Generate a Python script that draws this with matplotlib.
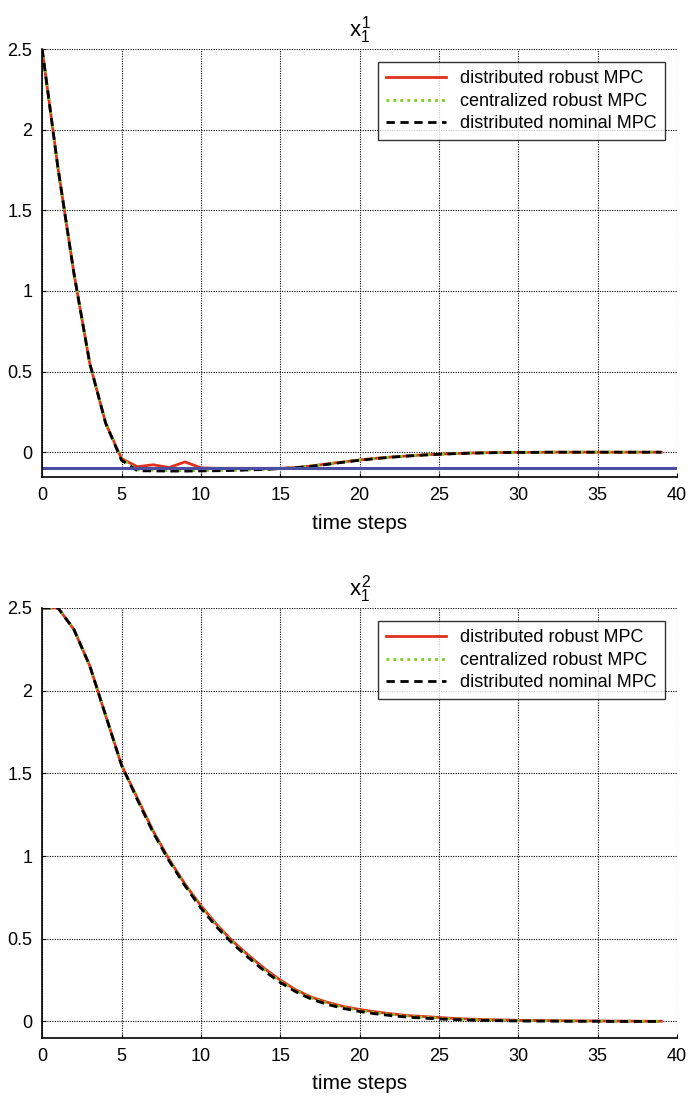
import matplotlib
matplotlib.use('Agg')
from matplotlib import pyplot as plt

plt.rcParams['font.family'] = ['Liberation Sans', 'DejaVu Sans']
plt.rcParams['mathtext.fontset'] = 'custom'
plt.rcParams['mathtext.rm'] = 'Liberation Sans'
plt.rcParams['mathtext.it'] = 'Liberation Sans'

# time steps 0..39
steps = list(range(40))

# state x_1^1
x11_dist_robust = [2.5, 1.76, 1.11, 0.55, 0.18, -0.04, -0.09, -0.078, -0.095, -0.06,
                   -0.097, -0.1, -0.1, -0.1, -0.1, -0.1, -0.095, -0.085, -0.072, -0.06,
                   -0.048, -0.038, -0.03, -0.023, -0.017, -0.012, -0.008, -0.005, -0.003, -0.002,
                   -0.001, -0.001, 0.0, 0.0, 0.0, 0.0, 0.0, 0.0, 0.0, 0.0]
x11_cent_robust = [2.5, 1.76, 1.11, 0.55, 0.18, -0.04, -0.11, -0.113, -0.114, -0.115,
                   -0.114, -0.113, -0.112, -0.11, -0.107, -0.102, -0.095, -0.085, -0.072, -0.06,
                   -0.048, -0.038, -0.03, -0.023, -0.017, -0.012, -0.008, -0.005, -0.003, -0.002,
                   -0.001, -0.001, 0.0, 0.0, 0.0, 0.0, 0.0, 0.0, 0.0, 0.0]
x11_dist_nominal = [2.5, 1.76, 1.11, 0.55, 0.18, -0.05, -0.115, -0.116, -0.117, -0.117,
                    -0.116, -0.115, -0.113, -0.11, -0.107, -0.102, -0.096, -0.087, -0.075, -0.062,
                    -0.05, -0.04, -0.031, -0.024, -0.018, -0.013, -0.009, -0.006, -0.004, -0.002,
                    -0.001, -0.001, 0.0, 0.0, 0.0, 0.0, 0.0, 0.0, 0.0, 0.0]
x11_bound = -0.1

# state x_1^2
x12_dist_robust = [2.5, 2.5, 2.37, 2.15, 1.85, 1.55, 1.35, 1.15, 0.98, 0.83,
                   0.70, 0.585, 0.485, 0.4, 0.32, 0.25, 0.19, 0.145, 0.115, 0.09,
                   0.072, 0.058, 0.046, 0.036, 0.03, 0.024, 0.018, 0.014, 0.011, 0.009,
                   0.007, 0.006, 0.005, 0.004, 0.003, 0.003, 0.002, 0.002, 0.001, 0.001]
x12_cent_robust = [2.5, 2.5, 2.37, 2.15, 1.85, 1.55, 1.345, 1.145, 0.975, 0.825,
                   0.695, 0.58, 0.48, 0.393, 0.313, 0.243, 0.185, 0.14, 0.11, 0.085,
                   0.067, 0.053, 0.042, 0.033, 0.026, 0.02, 0.015, 0.012, 0.009, 0.007,
                   0.006, 0.005, 0.004, 0.003, 0.002, 0.002, 0.001, 0.001, 0.0, 0.0]
x12_dist_nominal = [2.5, 2.5, 2.37, 2.15, 1.85, 1.55, 1.34, 1.14, 0.97, 0.82,
                    0.685, 0.57, 0.47, 0.385, 0.305, 0.235, 0.178, 0.133, 0.102, 0.078,
                    0.06, 0.046, 0.035, 0.026, 0.02, 0.015, 0.011, 0.008, 0.006, 0.004,
                    0.003, 0.002, 0.002, 0.001, 0.001, 0.001, 0.0, 0.0, 0.0, 0.0]

labels = ['distributed robust MPC', 'centralized robust MPC', 'distributed nominal MPC']
RED = '#e0301e'
GREEN = '#7ccc1c'
BLUE = '#4a4fa3'


def draw_panel(ax, robust, central, nominal, title, ylim, bound=None):
    ax.plot(steps, robust, color=RED, lw=2.0, label=labels[0])
    ax.plot(steps, central, color=GREEN, lw=2.0, ls=(0, (1, 1.5)), label=labels[1])
    ax.plot(steps, nominal, color='black', lw=2.0, ls=(0, (3, 2)), label=labels[2])
    if bound is not None:
        ax.plot([0, 40], [bound, bound], color=BLUE, lw=2.2)
    ax.set_xlim(0, 40)
    ax.set_ylim(*ylim)
    ax.set_xticks(range(0, 41, 5))
    ax.set_yticks([0, 0.5, 1, 1.5, 2, 2.5])
    ax.set_yticklabels(['0', '0.5', '1', '1.5', '2', '2.5'])
    ax.grid(True, color='black', ls=(0, (1, 1.2)), lw=0.8)
    ax.spines['top'].set_visible(False)
    ax.spines['right'].set_visible(False)
    ax.spines['left'].set_linewidth(1.2)
    ax.spines['bottom'].set_linewidth(1.2)
    ax.tick_params(direction='in', length=3, labelsize=13, pad=7)
    ax.set_xlabel('time steps', fontsize=15, labelpad=7)
    ax.set_title(title, fontsize=16, pad=9)
    leg = ax.legend(loc='upper right', fontsize=13, frameon=True, fancybox=False,
                    handlelength=3.3, borderpad=0.45, labelspacing=0.3,
                    bbox_to_anchor=(0.995, 0.99))
    leg.get_frame().set_edgecolor('black')
    leg.get_frame().set_linewidth(1.0)


fig = plt.figure(figsize=(6.91, 10.97), dpi=100)
ax1 = fig.add_axes([0.061, 0.565, 0.919, 0.3903])
ax2 = fig.add_axes([0.061, 0.0538, 0.919, 0.392])

draw_panel(ax1, x11_dist_robust, x11_cent_robust, x11_dist_nominal,
           r'$x_1^1$', (-0.155, 2.5), bound=x11_bound)
draw_panel(ax2, x12_dist_robust, x12_cent_robust, x12_dist_nominal,
           r'$x_1^2$', (-0.1, 2.5))

plt.savefig('out.png', dpi=100)
plt.close()
